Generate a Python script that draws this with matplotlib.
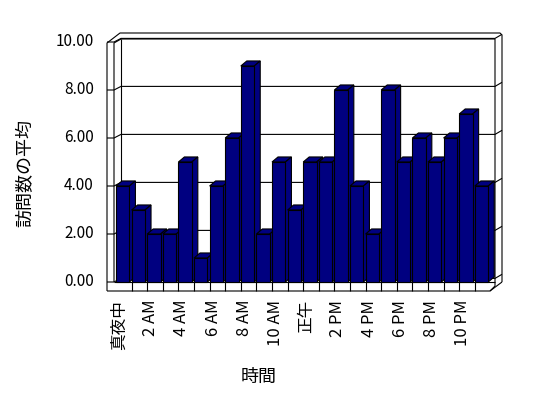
"""Average visits per hour of day, drawn as an Excel-style 3D column chart."""
import matplotlib

matplotlib.use("Agg")
import matplotlib.pyplot as plt  # noqa: E402
from matplotlib.patches import Polygon  # noqa: E402

plt.rcParams["font.family"] = ["Noto Sans CJK JP", "DejaVu Sans"]

hour_labels = ["真夜中", "", "2 AM", "", "4 AM", "", "6 AM", "", "8 AM", "", "10 AM", "",
               "正午", "", "2 PM", "", "4 PM", "", "6 PM", "", "8 PM", "", "10 PM", ""]
avg_visits = [4, 3, 2, 2, 5, 1, 4, 6, 9, 2, 5, 3, 5, 5, 8, 4, 2, 8, 5, 6, 5, 6, 7, 4]
y_ticks = [0, 2, 4, 6, 8, 10]
y_ticklabels = ["0.00", "2.00", "4.00", "6.00", "8.00", "10.00"]
x_title = "時間"
y_title = "訪問数の平均"

NAVY = "#000080"
# pixel layout: category 0 starts at x=116 px, 15.6 px per category;
# value 0 sits at y=282 px (from top), 24 px per unit
PX0, PXU, PY0, PYU = 116, 15.6, 282, 24.0
W, H = 548, 398


def dx(px):
    return (px - PX0) / PXU


def dy(py):
    return (PY0 - py) / PYU


fig = plt.figure(figsize=(W / 100, H / 100), dpi=100)
ax = fig.add_axes([0, 0, 1, 1])
ax.set_xlim(dx(0), dx(W))
ax.set_ylim(dy(H), dy(0))
ax.axis("off")

line = dict(color="black", lw=0.8, solid_capstyle="butt", zorder=1)

# wall frame
left_out, left_mid, left_in = dx(107), dx(114), dx(121)
right_in, right_out = dx(495), dx(502)
top_in, top_out = dy(39), dy(33)
floor_front = dy(291)
ax.plot([left_out, left_out, dx(120), dx(500), right_out, right_out],
        [floor_front, dy(43), top_out, top_out, dy(35), 0], **line)
ax.plot([left_mid, left_mid, left_in, right_in, right_in, dx(490)],
        [0, dy(43), top_in, top_in, dy(286), floor_front], **line)
ax.plot([left_in, left_in], [0, top_in], **line)
ax.plot([left_out, dx(490), right_out], [floor_front, floor_front, 0], **line)
ax.plot([left_mid, right_in], [0, 0], **line)
for i in range(1, len(avg_visits)):
    ax.plot([i, i], [floor_front, 0], **line)

# gridlines on the back wall plus their continuation over the wall edges
lift = 0.15
for v in y_ticks:
    ax.plot([left_out, left_mid, left_in, right_in, right_out],
            [v, v, v + lift, v + lift, v + lift + 0.17], **line)

# bars: front faces through ax.bar, then top and side faces
bw, ddx, ddy = 0.86, 0.385, 0.21
bars = ax.bar(range(len(avg_visits)), avg_visits, width=bw, align="edge",
              color=NAVY, edgecolor="black", linewidth=0.8)
for i, (rect, v) in enumerate(zip(bars, avg_visits)):
    z = 3 + i * 0.01
    rect.set_zorder(z)
    xl, xr = i, i + bw
    top = Polygon([(xl, v), (xr, v), (xr + ddx, v + ddy), (xl + ddx, v + ddy)],
                  closed=True, facecolor=NAVY, edgecolor="black", lw=0.8, zorder=z - 0.001)
    side = Polygon([(xr, 0), (xr, v), (xr + ddx, v + ddy), (xr + ddx, ddy)],
                   closed=True, facecolor=NAVY, edgecolor="black", lw=0.8, zorder=z - 0.001)
    ax.add_patch(top)
    ax.add_patch(side)

# tick labels
for v, lab in zip(y_ticks, y_ticklabels):
    ax.text(dx(94), v, lab, ha="right", va="center", fontsize=11)
for i, lab in enumerate(hour_labels):
    if lab:
        ax.text(i + bw / 2 - 0.2, dy(300), lab, rotation=90, ha="center", va="top",
                fontsize=12)

ax.text(dx(25), dy(173), y_title, rotation=90, ha="center", va="center", fontsize=13)
ax.text(dx(259), dy(377), x_title, ha="center", va="center", fontsize=13)

fig.savefig("out.png", dpi=100, facecolor="white")
